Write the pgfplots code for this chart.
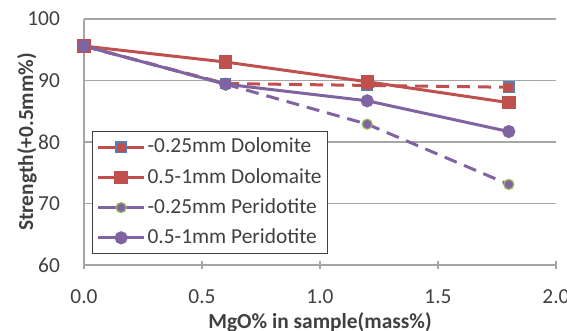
\documentclass[border=0pt]{standalone}
\usepackage{pgfplots}
\pgfplotsset{compat=1.18}
\usepackage{fontspec}
\setmainfont{Carlito}
\definecolor{exred}{HTML}{C0504D}
\definecolor{expurple}{HTML}{8064A2}
\definecolor{exblue}{HTML}{4F81BD}
\definecolor{exgreen}{HTML}{9BBB59}
\definecolor{txt}{HTML}{404040}
\definecolor{gridc}{HTML}{A6A6A6}
\begin{document}
\begin{tikzpicture}
\begin{axis}[
  name=ax,
  width=236pt, height=123pt, scale only axis,
  xmin=0, xmax=2, ymin=60, ymax=100,
  xtick={0,0.5,1,1.5,2}, ytick={60,70,80,90,100},
  /pgf/number format/assume math mode=true,
  xticklabel style={/pgf/number format/fixed,/pgf/number format/fixed zerofill,/pgf/number format/precision=1},
  axis lines*=left,
  axis line style={gridc, line width=0.8pt},
  ymajorgrids, grid style={gridc, line width=0.7pt},
  tick align=center, major tick length=4pt,
  xtick style={gridc, line width=0.8pt},
  ytick style={draw=none},
  tick label style={font=\fontsize{10.7}{12}\selectfont, text=txt},
  xticklabel shift=7pt, yticklabel shift=6.5pt,
  xlabel={MgO\% in sample(mass\%)},
  ylabel={Strength(+0.5mm\%)},
  label style={font=\bfseries\fontsize{10.7}{12}\selectfont, text=txt},
  xlabel style={at={(axis description cs:0.5,-0.2317)}, anchor=center},
  ylabel style={at={(axis description cs:-0.1208,0.5)}, anchor=center, rotate=0},
  legend style={at={(axis description cs:0.017,0.0447)}, anchor=south west,
    draw=txt, line width=0.6pt, fill=white, font=\fontsize{10.7}{12}\selectfont, text=txt,
    inner xsep=2pt, inner ysep=2pt, row sep=3.5pt,
    nodes={inner sep=1pt, text height=7.6pt, text depth=2pt}},
  legend cell align=left,
  legend image code/.code={\draw[mark repeat=2,mark phase=2] plot coordinates {(0pt,0pt) (11.5pt,0pt) (23pt,0pt)};},
]
\addplot[exred, line width=1.5pt, dash pattern=on 6.5pt off 4pt,
  mark=square*, mark size=2.6pt, mark options={solid, fill=exred, draw=exblue, line width=0.6pt},
  legend image post style={dash pattern=on 9pt off 5pt}]
  coordinates {(0,95.6) (0.6,89.5) (1.2,89.2) (1.8,88.9)};
\addlegendentry{-0.25mm Dolomite}
\addplot[exred, line width=1.5pt,
  mark=square*, mark size=2.6pt, mark options={solid, fill=exred}]
  coordinates {(0,95.6) (0.6,93.0) (1.2,89.8) (1.8,86.4)};
\addlegendentry{0.5-1mm Dolomaite}
\addplot[expurple, line width=1.5pt, dash pattern=on 6.5pt off 4pt,
  mark=*, mark size=2.5pt, mark options={solid, fill=expurple, draw=exgreen, line width=0.6pt},
  legend image post style={dash pattern=on 9pt off 5pt}]
  coordinates {(0,95.6) (0.6,89.4) (1.2,82.9) (1.8,73.1)};
\addlegendentry{-0.25mm Peridotite}
\addplot[expurple, line width=1.5pt,
  mark=*, mark size=2.5pt, mark options={solid, fill=expurple}]
  coordinates {(0,95.6) (0.6,89.4) (1.2,86.7) (1.8,81.7)};
\addlegendentry{0.5-1mm Peridotite}
\end{axis}
\pgfresetboundingbox
\path[use as bounding box] ([xshift=-42pt,yshift=-33pt]ax.south west) rectangle ([xshift=5.5pt,yshift=9.5pt]ax.north east);
\end{tikzpicture}
\end{document}
